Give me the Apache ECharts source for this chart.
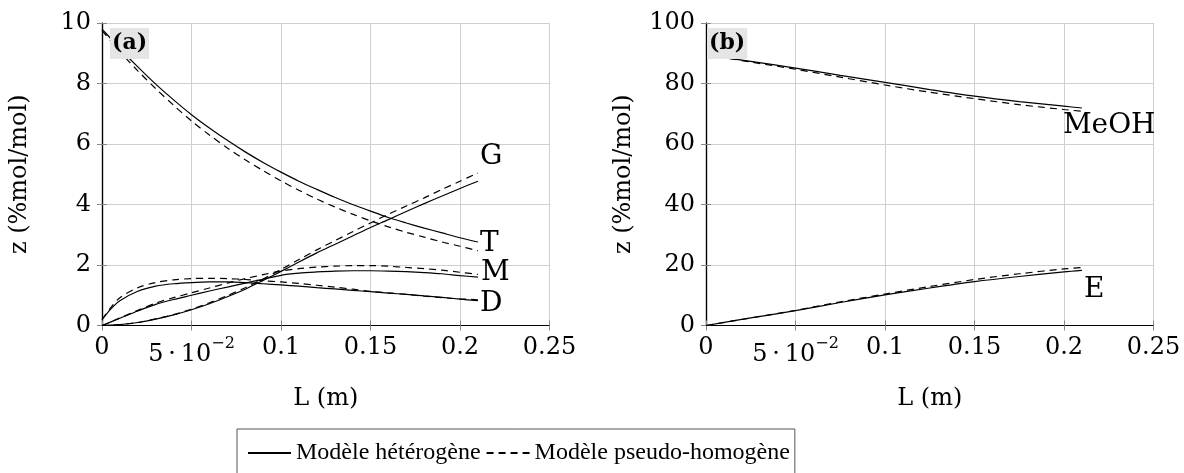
<!DOCTYPE html>
<html><head><meta charset="utf-8">
<script src="https://cdn.jsdelivr.net/npm/echarts@6/dist/echarts.min.js"></script>
<style>html,body{margin:0;padding:0;background:#fff}#c{width:1184px;height:473px}</style>
</head><body><div id="c"></div>
<script>
// ---- data ----
const L_a = [0, 0.005, 0.01, 0.02, 0.03, 0.04, 0.05, 0.06, 0.07, 0.08, 0.09, 0.10, 0.11, 0.12, 0.13, 0.14, 0.15, 0.16, 0.17, 0.18, 0.19, 0.20, 0.21];
const T_het = [9.80, 9.48, 9.15, 8.55, 7.98, 7.46, 6.97, 6.53, 6.12, 5.74, 5.39, 5.07, 4.77, 4.50, 4.24, 4.00, 3.78, 3.57, 3.39, 3.22, 3.06, 2.90, 2.76];
const T_pse = [9.75, 9.40, 9.05, 8.42, 7.83, 7.28, 6.76, 6.30, 5.87, 5.48, 5.12, 4.78, 4.47, 4.18, 3.92, 3.68, 3.46, 3.26, 3.08, 2.92, 2.76, 2.62, 2.47];
const G_het = [0, 0.01, 0.03, 0.10, 0.21, 0.35, 0.52, 0.72, 0.95, 1.20, 1.49, 1.79, 2.10, 2.40, 2.68, 2.96, 3.24, 3.50, 3.77, 4.03, 4.28, 4.53, 4.77];
const G_pse = [0, 0.01, 0.03, 0.10, 0.22, 0.36, 0.54, 0.75, 0.99, 1.25, 1.54, 1.85, 2.18, 2.50, 2.80, 3.10, 3.39, 3.68, 3.95, 4.22, 4.50, 4.77, 5.04];
const M_het = [0, 0.12, 0.24, 0.48, 0.70, 0.86, 1.00, 1.14, 1.27, 1.40, 1.53, 1.66, 1.73, 1.77, 1.80, 1.81, 1.81, 1.80, 1.78, 1.75, 1.71, 1.65, 1.60];
const M_pse = [0, 0.12, 0.25, 0.50, 0.74, 0.92, 1.08, 1.24, 1.40, 1.55, 1.68, 1.80, 1.88, 1.93, 1.96, 1.98, 1.98, 1.96, 1.92, 1.88, 1.83, 1.76, 1.69];
const D_het = [0.19, 0.55, 0.82, 1.13, 1.30, 1.38, 1.42, 1.44, 1.44, 1.42, 1.38, 1.34, 1.30, 1.25, 1.21, 1.16, 1.12, 1.07, 1.03, 0.98, 0.93, 0.87, 0.82];
const D_pse = [0.20, 0.60, 0.92, 1.25, 1.42, 1.51, 1.55, 1.56, 1.55, 1.52, 1.48, 1.44, 1.39, 1.33, 1.27, 1.20, 1.13, 1.08, 1.03, 0.97, 0.92, 0.88, 0.85];

const L_b = [0, 0.025, 0.05, 0.075, 0.1, 0.125, 0.15, 0.175, 0.2, 0.21];
const MeOH_het = [89.5, 87.3, 85.1, 82.7, 80.4, 78.0, 75.8, 74.0, 72.5, 71.9];
const MeOH_pse = [89.5, 87.1, 84.7, 82.1, 79.5, 77.1, 75.0, 73.0, 71.4, 70.8];
const E_het = [0, 2.5, 4.9, 7.6, 10.1, 12.4, 14.5, 16.2, 17.7, 18.2];
const E_pse = [0, 2.5, 5.0, 7.8, 10.4, 12.9, 15.2, 17.1, 18.7, 19.2];

const xTickValues = [0, 0.05, 0.1, 0.15, 0.2, 0.25];
const xTickLabels = ['0', '{b|5\u2009·\u200910}{s|−2}', '0.1', '0.15', '0.2', '0.25'];
const legendNames = ['Modèle hétérogène', 'Modèle pseudo-homogène'];
const panelLabels = ['(a)', '(b)'];
const xName = 'L (m)';
const yName = 'z (%mol/mol)';

// ---- styling ----
const FONT = 'DejaVu Serif';
const FS = 24;
const txt = {fontFamily: FONT, fontSize: FS, color: '#000'};
const curveTxt = {fontFamily: FONT, fontSize: 28, color: '#000'};

function xFmt(v) {
  const i = xTickValues.findIndex(t => Math.abs(t - v) < 1e-9);
  return i >= 0 ? xTickLabels[i] : '';
}
const zip = (xs, ys) => xs.map((x, i) => [x, ys[i]]);

const grids = [
  {left: 102, top: 23, width: 447.5, height: 302.5},
  {left: 706, top: 23, width: 447.5, height: 302.5}
];
const yRanges = [{max: 10, interval: 2}, {max: 100, interval: 20}];

const xAxis = [], yAxis = [];
grids.forEach((g, gi) => {
  xAxis.push({
    type: 'value', gridIndex: gi, min: 0, max: 0.25, interval: 0.05, position: 'bottom',
    name: xName, nameLocation: 'middle', nameGap: 61, nameTextStyle: txt,
    axisLine: {show: true, lineStyle: {color: '#000', width: 1.2}},
    axisTick: {show: true, inside: true, length: 5, lineStyle: {color: '#888'}},
    splitLine: {show: true, lineStyle: {color: '#cfcfcf', width: 1}},
    axisLabel: {
      ...txt, margin: 10, formatter: xFmt, showMinLabel: true, showMaxLabel: true,
      rich: {
        b: {fontFamily: FONT, fontSize: FS, color: '#000', padding: [7, 0, 0, 0], verticalAlign: 'top'},
        s: {fontFamily: FONT, fontSize: 16, color: '#000', verticalAlign: 'top'}
      }
    }
  });
  xAxis.push({
    type: 'value', gridIndex: gi, min: 0, max: 0.25, interval: 0.05, position: 'top',
    axisLine: {show: true, lineStyle: {color: '#000', width: 1.2}},
    axisTick: {show: true, inside: true, length: 5, lineStyle: {color: '#888'}},
    splitLine: {show: false}, axisLabel: {show: false}
  });
  yAxis.push({
    type: 'value', gridIndex: gi, min: 0, max: yRanges[gi].max, interval: yRanges[gi].interval, position: 'left',
    name: yName, nameLocation: 'middle', nameGap: 70, nameTextStyle: txt,
    axisLine: {show: true, lineStyle: {color: '#000', width: 1.2}},
    axisTick: {show: true, inside: true, length: 5, lineStyle: {color: '#888'}},
    splitLine: {show: true, lineStyle: {color: '#cfcfcf', width: 1}},
    axisLabel: {...txt, margin: 11}
  });
  yAxis.push({
    type: 'value', gridIndex: gi, min: 0, max: yRanges[gi].max, interval: yRanges[gi].interval, position: 'right',
    axisLine: {show: true, lineStyle: {color: '#000', width: 1.2}},
    axisTick: {show: true, inside: true, length: 5, lineStyle: {color: '#888'}},
    splitLine: {show: false}, axisLabel: {show: false}
  });
});

function line(gi, xs, ys, dashed, label, offset) {
  const s = {
    name: legendNames[dashed ? 1 : 0], type: 'line',
    xAxisIndex: gi * 2, yAxisIndex: gi * 2,
    data: zip(xs, ys), symbol: 'none', smooth: 0.3, color: '#000',
    lineStyle: {color: '#000', width: 1.2, type: dashed ? [7, 5] : 'solid'},
    silent: true, z: 3
  };
  if (label) {
    s.endLabel = {show: true, formatter: label, ...curveTxt, distance: 2, offset: offset};
  }
  return s;
}

const series = [
  line(0, L_a, T_het, false, 'T', [0, 2]),
  line(0, L_a, T_pse, true),
  line(0, L_a, G_het, false, 'G', [0, -24]),
  line(0, L_a, G_pse, true),
  line(0, L_a, M_het, false, 'M', [1, -4]),
  line(0, L_a, M_pse, true),
  line(0, L_a, D_het, false, 'D', [0, 3]),
  line(0, L_a, D_pse, true),
  line(1, L_b, MeOH_het, false, 'MeOH', [-21, 18]),
  line(1, L_b, MeOH_pse, true),
  line(1, L_b, E_het, false, 'E', [0, 19]),
  line(1, L_b, E_pse, true)
];

const chart = echarts.init(document.getElementById('c'), null, {renderer: 'canvas'});
chart.setOption({
  backgroundColor: '#fff',
  animation: false,
  title: panelLabels.map((t, i) => ({
    text: t, left: i === 0 ? 110 : 707, top: 28, padding: [4, 2, 5, 2],
    backgroundColor: '#e5e5e5',
    textStyle: {fontFamily: FONT, fontSize: 22, fontWeight: 'bold', color: '#000'}
  })),
  legend: {
    data: legendNames, left: 237, top: 429, orient: 'horizontal',
    padding: [12, 5, 24, 10], itemWidth: 43, itemHeight: 14, itemGap: 5,
    itemStyle: {opacity: 0, borderWidth: 0},
    borderColor: '#555', borderWidth: 1,
    textStyle: {fontFamily: 'Liberation Serif', fontSize: 24, color: '#000'},
    selectedMode: false
  },
  grid: grids,
  xAxis: xAxis,
  yAxis: yAxis,
  series: series
});
</script></body></html>
